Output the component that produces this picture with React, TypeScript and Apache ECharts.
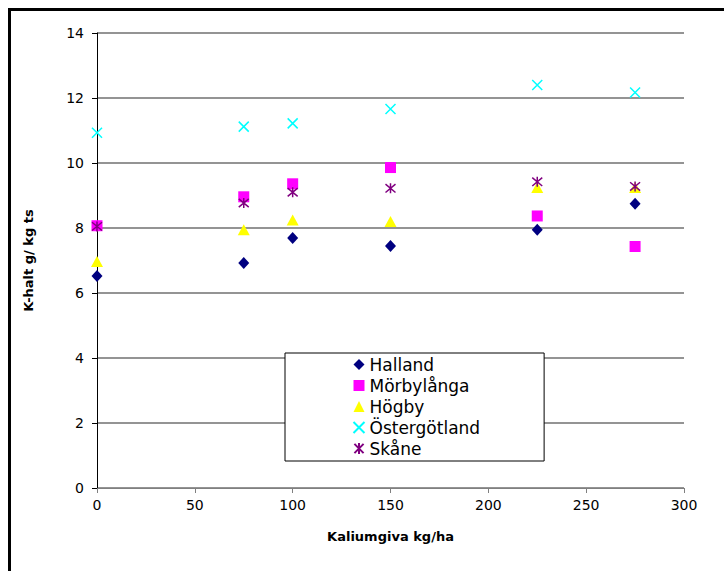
import React, { useEffect, useRef } from "react";
import * as echarts from "echarts";

const doses = [0, 75, 100, 150, 225, 275];
const halland = [6.52, 6.92, 7.69, 7.45, 7.95, 8.75];
const morbylanga = [8.07, 8.96, 9.36, 9.86, 8.37, 7.43];
const hogby = [6.97, 7.95, 8.25, 8.2, 9.25, 9.25];
const ostergotland = [10.93, 11.12, 11.22, 11.66, 12.4, 12.17];
const skane = [8.05, 8.77, 9.1, 9.22, 9.42, 9.28];
const seriesNames = ["Halland", "Mörbylånga", "Högby", "Östergötland", "Skåne"];

const X_PATH = "path://M0,0L10,10M10,0L0,10";
const STAR_PATH = "path://M0,0L10,10M10,0L0,10M5,-1L5,11";

export default function App() {
  const ref = useRef<HTMLDivElement>(null);
  useEffect(() => {
    if (!ref.current) return;
    const chart = echarts.init(ref.current, undefined, { renderer: "svg" });
    const toPts = (arr: number[]) => doses.map((d, i) => [d, arr[i]]);
    const font = "'DejaVu Sans', sans-serif";
    chart.setOption({
      animation: false,
      backgroundColor: "#fff",
      textStyle: { fontFamily: font },
      grid: { left: 97, right: 40, top: 33, bottom: 83 },
      graphic: [
        {
          type: "rect",
          shape: { x: 9.5, y: 9.5, width: 800, height: 700 },
          style: { fill: "none", stroke: "#000", lineWidth: 3 },
          z: 10,
        },
      ],
      xAxis: {
        type: "value",
        min: 0,
        max: 300,
        interval: 50,
        name: "Kaliumgiva kg/ha",
        nameLocation: "middle",
        nameGap: 42,
        nameTextStyle: { fontSize: 13, fontWeight: "bold", color: "#000", fontFamily: font },
        axisLine: { show: true, lineStyle: { color: "#808080", width: 1 } },
        axisTick: { show: true, length: 5, lineStyle: { color: "#808080" } },
        axisLabel: { fontSize: 14, color: "#000", margin: 10, fontFamily: font },
        splitLine: { show: false },
      },
      yAxis: {
        type: "value",
        min: 0,
        max: 14,
        interval: 2,
        name: "K-halt g/ kg ts",
        nameLocation: "middle",
        nameGap: 62,
        nameTextStyle: { fontSize: 13, fontWeight: "bold", color: "#000", fontFamily: font },
        axisLine: { show: true, lineStyle: { color: "#000", width: 1 } },
        axisTick: { show: true, length: 5, lineStyle: { color: "#000" } },
        axisLabel: { fontSize: 14, color: "#000", margin: 13, fontFamily: font },
        splitLine: { show: true, lineStyle: { color: "#707070", width: 1.5 } },
      },
      legend: {
        orient: "vertical",
        left: 285,
        top: 353,
        backgroundColor: "#fff",
        borderColor: "#000",
        borderWidth: 1,
        padding: [3, 64, 4, 66],
        itemGap: 4,
        itemWidth: 11,
        itemHeight: 11,
        textStyle: { fontSize: 17, color: "#000", fontFamily: font, lineHeight: 17 },
        data: seriesNames,
      },
      series: [
        {
          name: seriesNames[0],
          type: "scatter",
          data: toPts(halland),
          symbol: "diamond",
          symbolSize: [11, 12],
          itemStyle: { color: "#000080", opacity: 1 },
        },
        {
          name: seriesNames[1],
          type: "scatter",
          data: toPts(morbylanga),
          symbol: "rect",
          symbolSize: 11,
          itemStyle: { color: "#FF00FF", opacity: 1 },
        },
        {
          name: seriesNames[2],
          type: "scatter",
          data: toPts(hogby),
          symbol: "triangle",
          symbolSize: [12, 11],
          itemStyle: { color: "#FFFF00", opacity: 1 },
        },
        {
          name: seriesNames[3],
          type: "scatter",
          data: toPts(ostergotland),
          symbol: X_PATH,
          symbolSize: 10,
          itemStyle: { color: "none", borderColor: "#00FFFF", borderWidth: 1.5, opacity: 1 },
        },
        {
          name: seriesNames[4],
          type: "scatter",
          data: toPts(skane),
          symbol: STAR_PATH,
          symbolSize: 10,
          itemStyle: { color: "none", borderColor: "#800080", borderWidth: 1.5, opacity: 1 },
        },
      ],
    });
    return () => chart.dispose();
  }, []);
  return <div ref={ref} style={{ width: 724, height: 571, position: "absolute", left: 0, top: 0 }} />;
}
